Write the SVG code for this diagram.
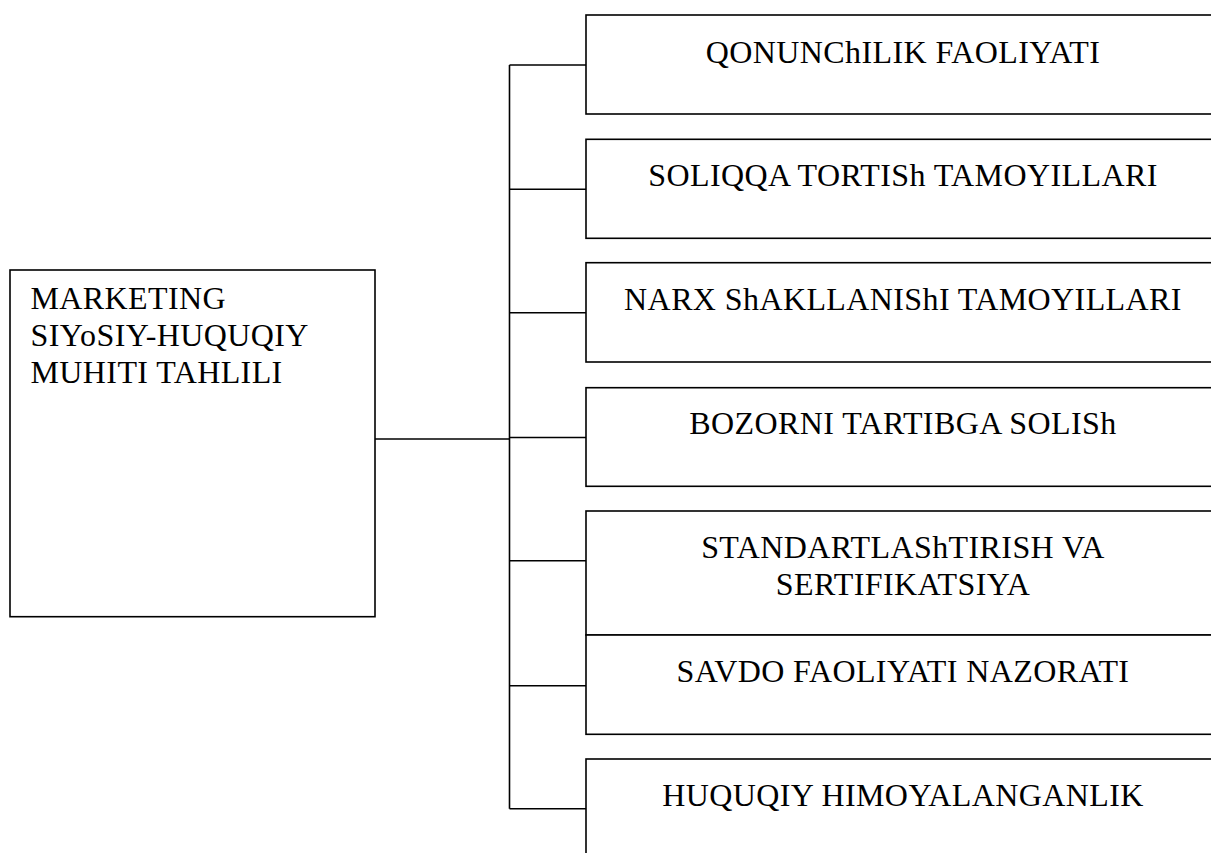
<svg xmlns="http://www.w3.org/2000/svg" width="1211" height="853" viewBox="0 0 1211 853">
<style>
.box{fill:#fff;stroke:#000;stroke-width:1.6}
.ln{fill:none;stroke:#000;stroke-width:1.6}
.t{font-family:"Liberation Serif","Times New Roman",serif;font-size:32px;letter-spacing:0.4px;fill:#000}
.c{text-anchor:middle}
</style>
<rect width="1211" height="853" fill="#fff"/>
<g id="connectors">
<path class="ln" d="M375 439H509.5"/>
<path class="ln" d="M509.5 65V808.7"/>
<path class="ln" d="M509.5 65H586M509.5 189.3H586M509.5 312.7H586M509.5 437.5H586M509.5 560.7H586M509.5 685.7H586M509.5 808.7H586"/>
</g>
<g id="main">
<rect class="box" x="10" y="270" width="365" height="346.7"/>
<text class="t" x="30.5" y="309.3">MARKETING</text>
<text class="t" x="30.5" y="346">SIYoSIY-HUQUQIY</text>
<text class="t" x="30.5" y="382.7">MUHITI TAHLILI</text>
</g>
<g id="n1">
<rect class="box" x="586" y="15" width="640" height="99"/>
<text class="t c" x="903" y="63">QONUNChILIK FAOLIYATI</text>
</g>
<g id="n2">
<rect class="box" x="586" y="139.3" width="640" height="99"/>
<text class="t c" x="903" y="186">SOLIQQA TORTISh TAMOYILLARI</text>
</g>
<g id="n3">
<rect class="box" x="586" y="262.7" width="640" height="99.3"/>
<text class="t c" x="903" y="310">NARX ShAKLLANIShI TAMOYILLARI</text>
</g>
<g id="n4">
<rect class="box" x="586" y="387.7" width="640" height="98.6"/>
<text class="t c" x="903" y="434.3">BOZORNI TARTIBGA SOLISh</text>
</g>
<g id="n5">
<rect class="box" x="586" y="511" width="640" height="124"/>
<text class="t c" x="903" y="558.3">STANDARTLAShTIRISH VA</text>
<text class="t c" x="903" y="595">SERTIFIKATSIYA</text>
</g>
<g id="n6">
<rect class="box" x="586" y="635" width="640" height="99.3"/>
<text class="t c" x="903" y="682.3">SAVDO FAOLIYATI NAZORATI</text>
</g>
<g id="n7">
<rect class="box" x="586" y="759" width="640" height="120"/>
<text class="t c" x="903" y="805.7">HUQUQIY HIMOYALANGANLIK</text>
</g>
</svg>
